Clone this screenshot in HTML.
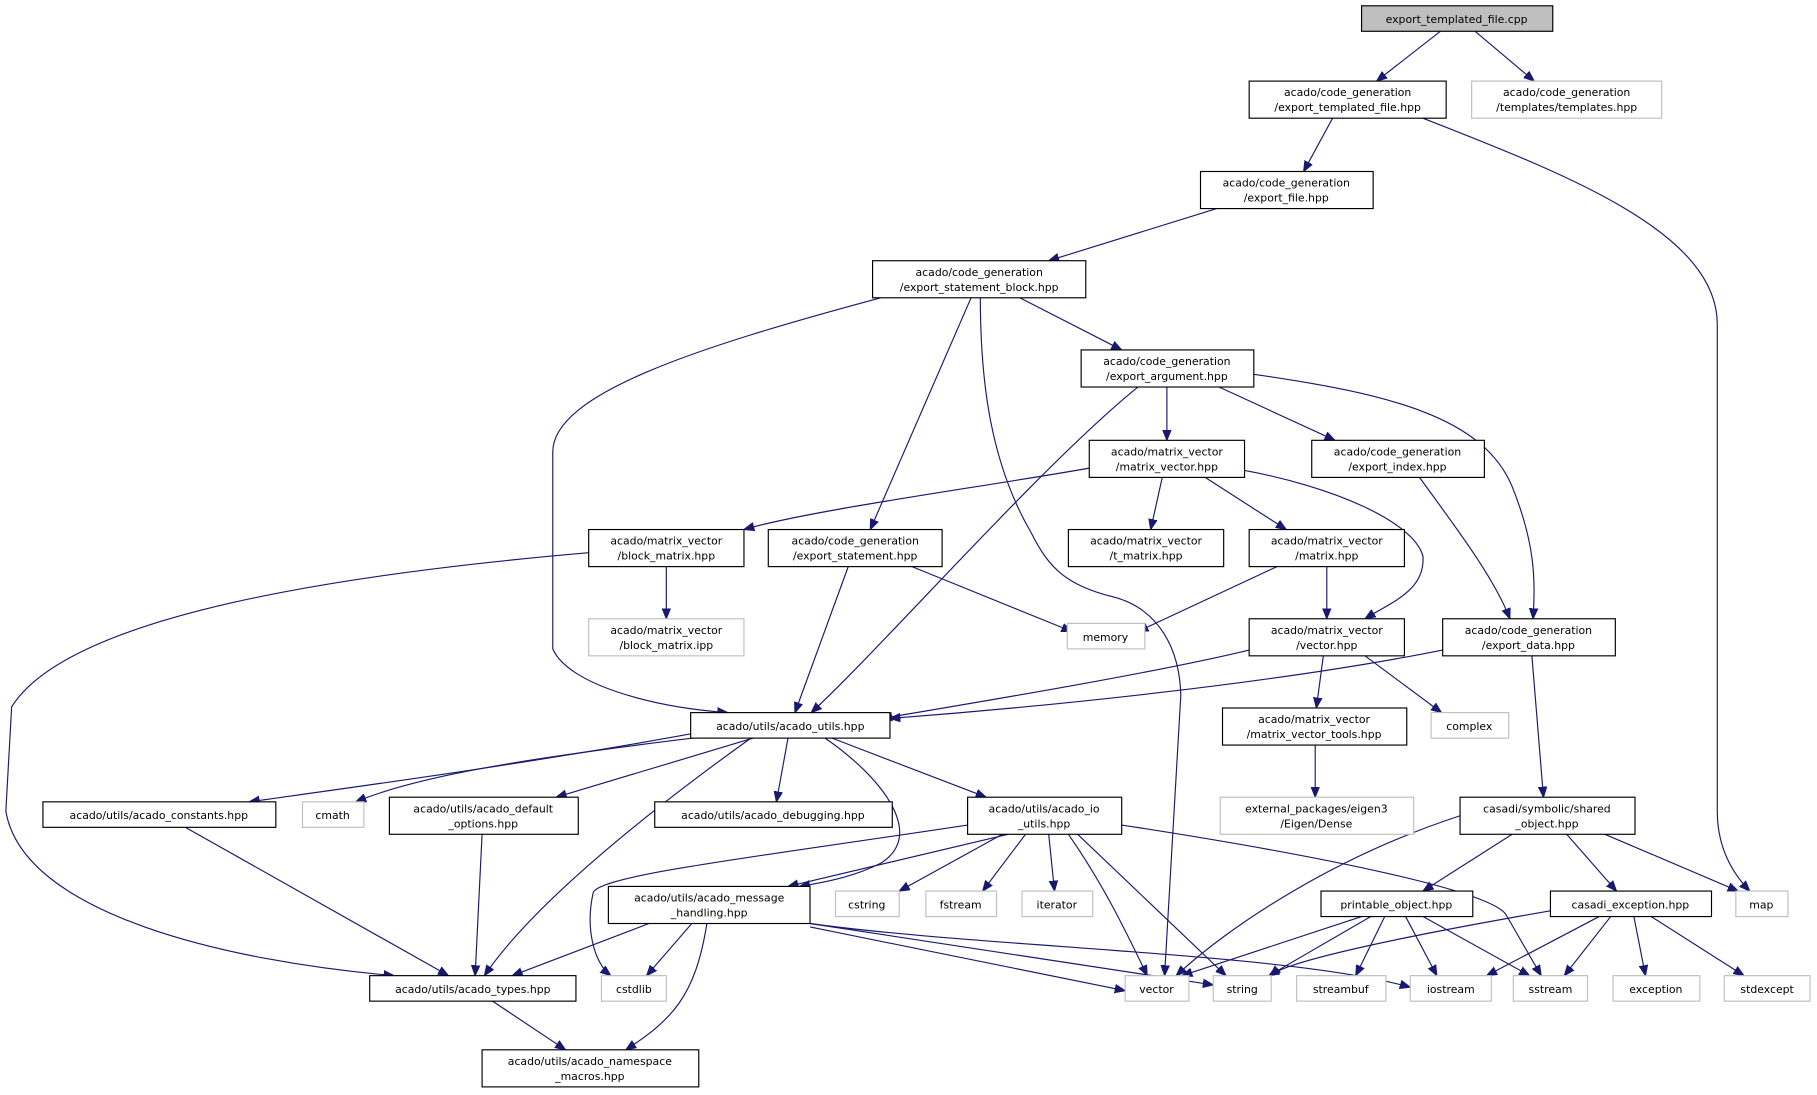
<!DOCTYPE html>
<html><head><meta charset="utf-8"><style>
html,body{margin:0;padding:0;background:#fff;}
svg{display:block;}
text{font-family:"DejaVu Sans","Liberation Sans",sans-serif;font-size:9.4px;fill:#000;text-anchor:middle;}
.b{fill:#fff;stroke:#000;stroke-width:1;}
.g{fill:#fff;stroke:#bfbfbf;stroke-width:1;}
path{fill:none;stroke:#191970;stroke-width:1;marker-end:url(#a);}
</style></head><body>
<svg width="1817" height="1095" viewBox="0 0 1568 945" xmlns="http://www.w3.org/2000/svg">
<defs><marker id="a" viewBox="0 0 10 10" refX="10" refY="5" markerWidth="9" markerHeight="9" markerUnits="userSpaceOnUse" orient="auto"><path d="M0,1 L10,5 L0,9 z" style="fill:#191970;stroke:#191970;marker-end:none"/></marker></defs>

<!-- edges -->
<path d="M1243,27 L1188,70"/>
<path d="M1273,27 L1324,70"/>
<path d="M1150,102 L1125,148"/>
<path d="M1228,102 C1350,150 1482,200 1482,280 L1482,700 Q1482,740 1510,769"/>
<path d="M1050,180 L905,225"/>
<path d="M760,257 C600,300 477,340 477,390 L477,560 C490,590 560,610 628,615"/>
<path d="M880,257 L968,302"/>
<path d="M838,257 L751,457"/>
<path d="M846,257 C846,330 855,400 890,460 C905,490 920,505 960,515 C1000,525 1018,560 1019,600 L1005,842"/>
<path d="M982,334 C900,400 760,560 700,615"/>
<path d="M1007,334 L1007,380"/>
<path d="M1052,334 L1152,380"/>
<path d="M1082,323 C1200,340 1280,360 1305,420 C1325,470 1325,500 1323,534"/>
<path d="M940,404 C850,420 700,440 642,457"/>
<path d="M1003,412 L993,457"/>
<path d="M1040,412 L1110,457"/>
<path d="M1074,406 C1150,420 1220,450 1228,480 C1230,510 1200,520 1178,534"/>
<path d="M1225,412 C1260,460 1290,500 1303,534"/>
<path d="M575,489 L575,534"/>
<path d="M508,477 C300,495 60,530 10,610 L5,700 C20,790 200,830 340,842"/>
<path d="M732,489 L686,615"/>
<path d="M787,489 L925,545"/>
<path d="M1102,489 L982,545"/>
<path d="M1145,489 L1145,534"/>
<path d="M1078,561 C1000,580 850,605 761,620"/>
<path d="M1142,566 L1136,611"/>
<path d="M1178,566 L1244,615"/>
<path d="M1245,561 C1100,590 900,610 768,620"/>
<path d="M1322,566 L1332,688"/>
<path d="M1135,643 L1135,688"/>
<path d="M598,633 C450,660 300,680 215,692"/>
<path d="M598,637 C450,655 360,670 307,692"/>
<path d="M650,637 L480,688"/>
<path d="M680,637 L670,692"/>
<path d="M718,637 L851,688"/>
<path d="M648,637 C560,700 460,780 418,842"/>
<path d="M712,637 C760,670 800,720 760,745 C740,755 720,760 690,765"/>
<path d="M160,714 L387,842"/>
<path d="M416,720 L410,842"/>
<path d="M870,720 L680,765"/>
<path d="M835,712 C650,740 520,755 512,770 C505,800 512,830 527,842"/>
<path d="M865,720 L776,769"/>
<path d="M885,720 L848,769"/>
<path d="M905,720 L910,769"/>
<path d="M922,720 C950,760 970,800 990,842"/>
<path d="M930,720 L1058,842"/>
<path d="M968,712 C1150,740 1290,770 1300,790 L1330,842"/>
<path d="M560,797 L442,842"/>
<path d="M597,797 L558,842"/>
<path d="M610,797 C600,860 580,880 540,906"/>
<path d="M699,800 L971,855"/>
<path d="M699,797 L1047,850"/>
<path d="M699,797 C850,818 1110,822 1217,852"/>
<path d="M1260,704 C1150,740 1060,800 1015,842"/>
<path d="M1305,720 L1228,769"/>
<path d="M1352,720 L1395,769"/>
<path d="M1385,720 L1500,769"/>
<path d="M1175,791 L1020,842"/>
<path d="M1183,791 L1095,842"/>
<path d="M1195,791 L1170,842"/>
<path d="M1213,791 L1240,842"/>
<path d="M1228,791 L1320,842"/>
<path d="M1338,786 C1200,810 1110,830 1096,842"/>
<path d="M1380,791 L1283,842"/>
<path d="M1390,791 L1350,842"/>
<path d="M1410,791 L1420,842"/>
<path d="M1425,791 L1505,842"/>
<path d="M425,864 L488,906"/>

<!-- nodes -->
<rect x="1175" y="5" width="165" height="22" style="fill:#bfbfbf;stroke:#000"/><text x="1257" y="20">export_templated_file.cpp</text>
<rect class="b" x="1078" y="70" width="170" height="32"/><text x="1163" y="83">acado/code_generation</text><text x="1163" y="96">/export_templated_file.hpp</text>
<rect class="g" x="1270" y="70" width="164" height="32"/><text x="1352" y="83">acado/code_generation</text><text x="1352" y="96">/templates/templates.hpp</text>
<rect class="b" x="1036" y="148" width="149" height="32"/><text x="1110" y="161">acado/code_generation</text><text x="1110" y="174">/export_file.hpp</text>
<rect class="b" x="753" y="225" width="184" height="32"/><text x="845" y="238">acado/code_generation</text><text x="845" y="251">/export_statement_block.hpp</text>
<rect class="b" x="933" y="302" width="149" height="32"/><text x="1007" y="315">acado/code_generation</text><text x="1007" y="328">/export_argument.hpp</text>
<rect class="b" x="940" y="380" width="134" height="32"/><text x="1007" y="393">acado/matrix_vector</text><text x="1007" y="406">/matrix_vector.hpp</text>
<rect class="b" x="1132" y="380" width="149" height="32"/><text x="1206" y="393">acado/code_generation</text><text x="1206" y="406">/export_index.hpp</text>
<rect class="b" x="508" y="457" width="134" height="32"/><text x="575" y="470">acado/matrix_vector</text><text x="575" y="483">/block_matrix.hpp</text>
<rect class="b" x="663" y="457" width="150" height="32"/><text x="738" y="470">acado/code_generation</text><text x="738" y="483">/export_statement.hpp</text>
<rect class="b" x="922" y="457" width="134" height="32"/><text x="989" y="470">acado/matrix_vector</text><text x="989" y="483">/t_matrix.hpp</text>
<rect class="b" x="1078" y="457" width="134" height="32"/><text x="1145" y="470">acado/matrix_vector</text><text x="1145" y="483">/matrix.hpp</text>
<rect class="g" x="508" y="534" width="134" height="32"/><text x="575" y="547">acado/matrix_vector</text><text x="575" y="560">/block_matrix.ipp</text>
<rect class="g" x="921" y="538" width="67" height="22"/><text x="954" y="553">memory</text>
<rect class="b" x="1078" y="534" width="134" height="32"/><text x="1145" y="547">acado/matrix_vector</text><text x="1145" y="560">/vector.hpp</text>
<rect class="b" x="1245" y="534" width="149" height="32"/><text x="1319" y="547">acado/code_generation</text><text x="1319" y="560">/export_data.hpp</text>
<rect class="b" x="596" y="615" width="172" height="22"/><text x="682" y="630">acado/utils/acado_utils.hpp</text>
<rect class="b" x="1055" y="611" width="159" height="32"/><text x="1134" y="624">acado/matrix_vector</text><text x="1134" y="637">/matrix_vector_tools.hpp</text>
<rect class="g" x="1235" y="615" width="67" height="22"/><text x="1268" y="630">complex</text>
<rect class="b" x="37" y="692" width="201" height="22"/><text x="137" y="707">acado/utils/acado_constants.hpp</text>
<rect class="g" x="261" y="692" width="53" height="22"/><text x="287" y="707">cmath</text>
<rect class="b" x="336" y="688" width="163" height="32"/><text x="417" y="701">acado/utils/acado_default</text><text x="417" y="714">_options.hpp</text>
<rect class="b" x="565" y="692" width="205" height="22"/><text x="667" y="707">acado/utils/acado_debugging.hpp</text>
<rect class="b" x="835" y="688" width="133" height="32"/><text x="901" y="701">acado/utils/acado_io</text><text x="901" y="714">_utils.hpp</text>
<rect class="g" x="1053" y="688" width="167" height="32"/><text x="1136" y="701">external_packages/eigen3</text><text x="1136" y="714">/Eigen/Dense</text>
<rect class="b" x="1260" y="688" width="151" height="32"/><text x="1335" y="701">casadi/symbolic/shared</text><text x="1335" y="714">_object.hpp</text>
<rect class="b" x="525" y="765" width="174" height="32"/><text x="612" y="778">acado/utils/acado_message</text><text x="612" y="791">_handling.hpp</text>
<rect class="g" x="721" y="769" width="55" height="22"/><text x="748" y="784">cstring</text>
<rect class="g" x="799" y="769" width="61" height="22"/><text x="829" y="784">fstream</text>
<rect class="g" x="882" y="769" width="61" height="22"/><text x="912" y="784">iterator</text>
<rect class="b" x="1140" y="769" width="131" height="22"/><text x="1205" y="784">printable_object.hpp</text>
<rect class="b" x="1338" y="769" width="139" height="22"/><text x="1407" y="784">casadi_exception.hpp</text>
<rect class="g" x="1498" y="769" width="45" height="22"/><text x="1520" y="784">map</text>
<rect class="b" x="319" y="842" width="178" height="22"/><text x="408" y="857">acado/utils/acado_types.hpp</text>
<rect class="g" x="519" y="842" width="56" height="22"/><text x="547" y="857">cstdlib</text>
<rect class="g" x="971" y="842" width="55" height="22"/><text x="998" y="857">vector</text>
<rect class="g" x="1047" y="842" width="50" height="22"/><text x="1072" y="857">string</text>
<rect class="g" x="1119" y="842" width="77" height="22"/><text x="1157" y="857">streambuf</text>
<rect class="g" x="1217" y="842" width="70" height="22"/><text x="1252" y="857">iostream</text>
<rect class="g" x="1306" y="842" width="64" height="22"/><text x="1338" y="857">sstream</text>
<rect class="g" x="1392" y="842" width="75" height="22"/><text x="1429" y="857">exception</text>
<rect class="g" x="1488" y="842" width="74" height="22"/><text x="1525" y="857">stdexcept</text>
<rect class="b" x="416" y="906" width="187" height="32"/><text x="509" y="919">acado/utils/acado_namespace</text><text x="509" y="932">_macros.hpp</text>
</svg>
</body></html>
